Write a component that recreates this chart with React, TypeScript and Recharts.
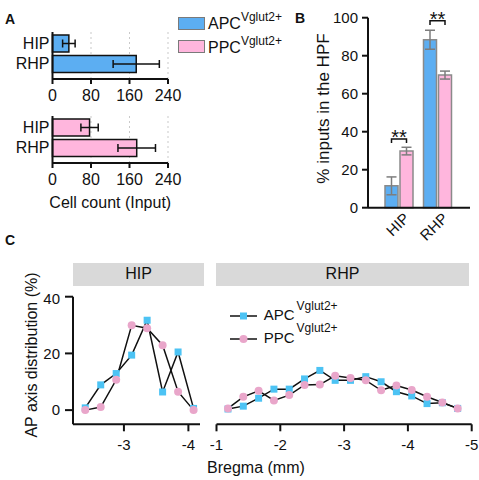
import React from 'react';
import {
  BarChart,
  Bar,
  XAxis,
  YAxis,
  CartesianGrid,
  ErrorBar,
  LabelList,
  LineChart,
  Line,
} from 'recharts';

const FONT = 'Arial, "Liberation Sans", Helvetica, sans-serif';
const INK = '#111';
const BLUE = '#5caef2';
const PINK = '#ffb6dd';
const CYAN = '#4cc3f4';
const ROSE = '#e9a6ca';
const GRAY_EDGE = '#8a8a8a';

const regions = ['HIP', 'RHP'];

// A: input cell counts
const apcCount = [34, 174];
const apcCountSd = [13, 48];
const ppcCount = [77, 175];
const ppcCountSd = [18, 39];
const countTicks = [0, 80, 160, 240];

// B: % of HPF inputs
const apcShare = [11.5, 88.4];
const apcShareSd = [4.7, 5];
const ppcShare = [29.8, 69.8];
const ppcShareSd = [2, 2.1];
const shareTicks = [0, 20, 40, 60, 80, 100];
const bracketLevel = [36.2, 98.4];

// C: AP axis distribution along bregma
const hipBregma = [-2.4, -2.64, -2.88, -3.12, -3.36, -3.6, -3.84, -4.08];
const hipApc = [0.8, 8.9, 12.9, 19.4, 31.7, 6.4, 20.5, 0.6];
const hipPpc = [0, 1.1, 10.7, 29.9, 28.9, 22.9, 6.5, 0];
const rhpBregma = [-1.18, -1.42, -1.66, -1.9, -2.14, -2.38, -2.62, -2.86, -3.1, -3.34, -3.58, -3.82, -4.06, -4.3, -4.54, -4.78];
const rhpApc = [0.4, 1.4, 4.2, 7.4, 7.4, 11, 14, 10.5, 10.5, 11.8, 10, 6.5, 5, 2.3, 2.6, 0.6];
const rhpPpc = [0.6, 4.7, 6.8, 3.4, 5.3, 8.9, 9, 12.1, 11.3, 10.5, 7, 8.7, 7.1, 4.7, 2.7, 0.6];
const hipTicks = [-3, -4];
const rhpTicks = [-1, -2, -3, -4, -5];
const apTicks = [0, 20, 40];

const axisLine = { stroke: INK, strokeWidth: 2 };

function Txt({ x, y, size, bold, children }: any) {
  // y is the cap-top of the text
  return (
    <div
      style={{
        position: 'absolute',
        left: x,
        top: y - 0.13 * size,
        fontSize: size,
        lineHeight: 1,
        fontWeight: bold ? 700 : 400,
        whiteSpace: 'nowrap',
      }}
    >
      {children}
    </div>
  );
}

function CountChart({ values, sd, fill, top, marginTop, withTitle }: any) {
  const data = regions.map((r, i) => ({ name: r, v: values[i], sd: sd[i] }));
  return (
    <div style={{ position: 'absolute', left: 0, top }}>
      <BarChart
        width={240}
        height={110}
        data={data}
        layout="vertical"
        margin={{ top: marginTop, right: 72, left: 0, bottom: 110 - marginTop - 47 - 25 }}
      >
        <CartesianGrid horizontal={false} strokeDasharray="2 3" stroke="#c9c9c9" />
        <XAxis
          type="number"
          domain={[0, 240]}
          ticks={countTicks}
          height={25}
          axisLine={axisLine}
          tickLine={axisLine}
          tickSize={5}
          tickMargin={6}
          tick={{ fontSize: 16, fill: INK, fontFamily: FONT }}
          label={
            withTitle
              ? { value: 'Cell count (Input)', position: 'bottom', offset: 9, fontSize: 16, fill: INK, fontFamily: FONT }
              : undefined
          }
        />
        <YAxis
          type="category"
          dataKey="name"
          width={52.5}
          interval={0}
          padding={{ top: 1, bottom: 5 }}
          axisLine={axisLine}
          tickLine={false}
          tickSize={0}
          tickMargin={3}
          tick={{ fontSize: 16, fill: INK, fontFamily: FONT }}
        />
        <Bar dataKey="v" fill={fill} stroke={INK} strokeWidth={1.5} barSize={17} isAnimationActive={false}>
          <ErrorBar dataKey="sd" direction="x" width={4} stroke={INK} strokeWidth={1.5} />
        </Bar>
      </BarChart>
    </div>
  );
}

// significance bracket drawn from the PPC bar back to its APC neighbour
const SigBracket = (p: any) => {
  const vb = p.viewBox && p.viewBox.width != null ? p.viewBox : p;
  const { x, y, width, height } = vb;
  let i = typeof p.index === 'number' ? p.index : ppcShare.indexOf(Number(p.value));
  if (i < 0) i = 0;
  const base = y + height;
  const ppu = height / ppcShare[i];
  const top = base - bracketLevel[i] * ppu;
  const foot = top + 2.2 * ppu;
  const l = x - 2 - width / 2;
  const r = x + width / 2;
  return (
    <g key={`br${i}`}>
      <path d={`M${l},${foot}V${top}H${r}V${foot}`} fill="none" stroke={INK} strokeWidth={1.5} />
      <text x={(l + r) / 2} y={top + 5} textAnchor="middle" fontSize={20} fontFamily={FONT} fill={INK}>
        **
      </text>
    </g>
  );
};

const SlantTick = (p: any) => {
  const X = p.x + 11;
  const Y = p.y + 11.5;
  return (
    <text
      x={X}
      y={Y}
      transform={`rotate(-45 ${X} ${Y})`}
      textAnchor="end"
      fontSize={15}
      fontFamily={FONT}
      fill={INK}
    >
      {p.payload.value}
    </text>
  );
};

function ShareChart() {
  const data = regions.map((r, i) => ({
    name: r,
    apc: apcShare[i],
    apcSd: apcShareSd[i],
    ppc: ppcShare[i],
    ppcSd: ppcShareSd[i],
  }));
  return (
    <div style={{ position: 'absolute', left: 290, top: 0 }}>
      <BarChart width={189} height={250} data={data} margin={{ top: 17.7, right: 9, left: 0, bottom: 10.3 }} barSize={13} barGap={2}>
        <XAxis
          dataKey="name"
          padding={{ left: 12, right: 13 }}
          height={32}
          axisLine={axisLine}
          tickLine={false}
          tickSize={0}
          tickMargin={0}
          interval={0}
          tick={SlantTick}
        />
        <YAxis
          domain={[0, 100]}
          ticks={shareTicks}
          width={78}
          axisLine={axisLine}
          tickLine={axisLine}
          tickSize={6}
          tickMargin={4}
          tick={{ fontSize: 15, fill: INK, fontFamily: FONT }}
          label={() => (
            <text
              x={33}
              y={108.5}
              transform="rotate(-90 33 108.5)"
              textAnchor="middle"
              dominantBaseline="central"
              fontSize={17}
              fontFamily={FONT}
              fill={INK}
            >
              % inputs in the HPF
            </text>
          )}
        />
        <Bar dataKey="apc" fill={BLUE} stroke={GRAY_EDGE} strokeWidth={1.5} isAnimationActive={false}>
          <ErrorBar dataKey="apcSd" direction="y" width={5} stroke="#7d7d7d" strokeWidth={1.5} />
        </Bar>
        <Bar dataKey="ppc" fill={PINK} stroke={GRAY_EDGE} strokeWidth={1.5} isAnimationActive={false}>
          <ErrorBar dataKey="ppcSd" direction="y" width={5} stroke="#7d7d7d" strokeWidth={1.5} />
          <LabelList dataKey="ppc" content={SigBracket} />
        </Bar>
      </BarChart>
    </div>
  );
}

const SquareDot = (props: any) => {
  const { cx, cy, index } = props;
  return <rect key={`s${index}`} x={cx - 3.5} y={cy - 3.5} width={7} height={7} fill={CYAN} />;
};

const RoundDot = (props: any) => {
  const { cx, cy, index } = props;
  return <circle key={`c${index}`} cx={cx} cy={cy} r={4} fill={ROSE} />;
};

const legendRows = [
  { name: 'APC', kind: 'square' },
  { name: 'PPC', kind: 'circle' },
];

function ApLegend() {
  return (
    <div style={{ position: 'absolute', left: 230.3, top: 310, width: 130 }}>
      {legendRows.map((row) => (
        <div key={row.name} style={{ position: 'relative', height: 22.7 }}>
          <svg width={28} height={12} style={{ position: 'absolute', left: 0, top: 0 }}>
            <line x1={0} y1={6} x2={27} y2={6} stroke={INK} strokeWidth={1.5} />
            {row.kind === 'square' ? (
              <rect x={10} y={2.5} width={7} height={7} fill={CYAN} />
            ) : (
              <circle cx={13.5} cy={6} r={4} fill={ROSE} />
            )}
          </svg>
          <span style={{ position: 'absolute', left: 33.4, top: -2.75, fontSize: 15, lineHeight: 1, whiteSpace: 'nowrap' }}>
            {row.name}
            <span style={{ fontSize: 12, position: 'relative', top: -10.7, marginLeft: 2 }}>Vglut2+</span>
          </span>
        </div>
      ))}
    </div>
  );
}

function HipLines() {
  const data = hipBregma.map((x, i) => ({ x, apc: hipApc[i], ppc: hipPpc[i] }));
  return (
    <div style={{ position: 'absolute', left: 0, top: 290 }}>
      <LineChart width={210} height={190} data={data} margin={{ top: 6.7, right: 10, left: 0, bottom: 25.7 }}>
        <XAxis
          type="number"
          dataKey="x"
          domain={[-4.18, -2.21]}
          reversed
          allowDataOverflow
          ticks={hipTicks}
          height={30}
          axisLine={axisLine}
          tickLine={axisLine}
          tickSize={7}
          tickMargin={8}
          tick={{ fontSize: 15, fill: INK, fontFamily: FONT }}
        />
        <YAxis
          domain={[-5, 40]}
          ticks={apTicks}
          allowDataOverflow
          width={73}
          axisLine={axisLine}
          tickLine={axisLine}
          tickSize={8}
          tickMargin={5}
          tick={{ fontSize: 15, fill: INK, fontFamily: FONT }}
        />
        <Line dataKey="apc" stroke={INK} strokeWidth={1.5} dot={SquareDot} activeDot={false} isAnimationActive={false} />
        <Line dataKey="ppc" stroke={INK} strokeWidth={1.5} dot={RoundDot} activeDot={false} isAnimationActive={false} />
      </LineChart>
    </div>
  );
}

function RhpLines() {
  const data = rhpBregma.map((x, i) => ({ x, apc: rhpApc[i], ppc: rhpPpc[i] }));
  return (
    <div style={{ position: 'absolute', left: 210, top: 290 }}>
      <LineChart width={269} height={190} data={data} margin={{ top: 6.7, right: 7.3, left: 6.5, bottom: 25.7 }}>
        <XAxis
          type="number"
          dataKey="x"
          domain={[-5, -1]}
          reversed
          ticks={rhpTicks}
          height={30}
          axisLine={axisLine}
          tickLine={axisLine}
          tickSize={7}
          tickMargin={8}
          tick={{ fontSize: 15, fill: INK, fontFamily: FONT }}
        />
        <YAxis hide domain={[-5, 40]} allowDataOverflow />
        <Line dataKey="apc" stroke={INK} strokeWidth={1.5} dot={SquareDot} activeDot={false} isAnimationActive={false} />
        <Line dataKey="ppc" stroke={INK} strokeWidth={1.5} dot={RoundDot} activeDot={false} isAnimationActive={false} />
      </LineChart>
    </div>
  );
}

function FacetHeader({ x, w, label }: any) {
  return (
    <div
      style={{
        position: 'absolute',
        left: x,
        top: 262.5,
        width: w,
        height: 23.5,
        background: '#d9d9d9',
        display: 'flex',
        alignItems: 'center',
        justifyContent: 'center',
        fontSize: 16,
      }}
    >
      {label}
    </div>
  );
}

function SwatchRow({ y, fill, name }: any) {
  return (
    <>
      <div
        style={{
          position: 'absolute',
          left: 178,
          top: y,
          width: 27,
          height: 13,
          boxSizing: 'border-box',
          border: '1.5px solid #7a7a7a',
          background: fill,
        }}
      />
      <Txt x={208} y={y + 1.8} size={16}>
        {name}
        <span style={{ fontSize: 12, position: 'relative', top: -8 }}>Vglut2+</span>
      </Txt>
    </>
  );
}

export default function App() {
  return (
    <div
      style={{
        position: 'absolute',
        left: 0,
        top: 0,
        width: 479,
        height: 480,
        background: '#fff',
        fontFamily: FONT,
        color: INK,
        overflow: 'hidden',
      }}
    >
      <CountChart values={apcCount} sd={apcCountSd} fill={BLUE} top={0} marginTop={32} />
      <CountChart values={ppcCount} sd={ppcCountSd} fill={PINK} top={110} marginTop={6} withTitle />
      <SwatchRow y={16.5} fill={BLUE} name="APC" />
      <SwatchRow y={40.3} fill={PINK} name="PPC" />
      <ShareChart />
      <FacetHeader x={73} w={131} label="HIP" />
      <FacetHeader x={216} w={253} label="RHP" />
      <HipLines />
      <RhpLines />
      <ApLegend />
      <div
        style={{
          position: 'absolute',
          left: 32,
          top: 355.3,
          transform: 'translate(-50%, -50%) rotate(-90deg)',
          fontSize: 16,
          lineHeight: 1,
          whiteSpace: 'nowrap',
        }}
      >
        AP axis distribution (%)
      </div>
      <Txt x={207} y={462} size={16}>Bregma (mm)</Txt>
      <Txt x={5} y={13.5} size={14} bold>A</Txt>
      <Txt x={295} y={12.7} size={14} bold>B</Txt>
      <Txt x={5} y={235} size={14} bold>C</Txt>
    </div>
  );
}
